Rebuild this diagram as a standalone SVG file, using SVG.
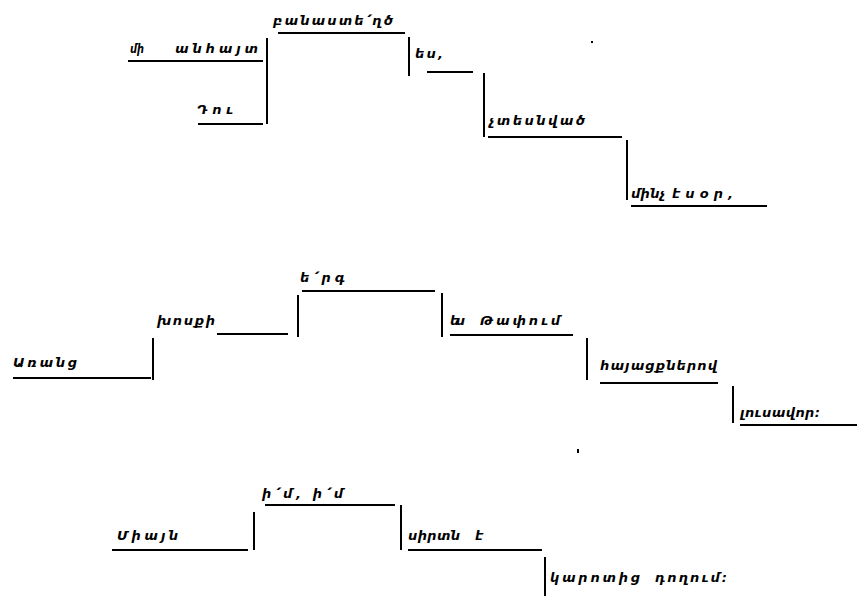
<svg xmlns="http://www.w3.org/2000/svg" width="863" height="596" viewBox="0 0 863 596">
<style>
text{font-family:"DejaVu Sans","Noto Sans",sans-serif;font-size:13px;font-style:italic;font-weight:bold;fill:#000}
.u{stroke:#000;stroke-width:1.8;fill:none}
.v{stroke:#000;stroke-width:2;fill:none}
</style>
<rect width="863" height="596" fill="#fff"/>
<g id="connectors">
<line class="v" x1="267" y1="38" x2="267" y2="124"/>
<line class="v" x1="409" y1="37" x2="409" y2="76"/>
<line class="v" x1="484" y1="73" x2="484" y2="137"/>
<line class="v" x1="627" y1="140" x2="627" y2="200"/>
<line class="v" x1="153" y1="338" x2="153" y2="380"/>
<line class="v" x1="298" y1="295" x2="298" y2="337"/>
<line class="v" x1="442" y1="293" x2="442" y2="337"/>
<line class="v" x1="587" y1="338" x2="587" y2="380"/>
<line class="v" x1="733" y1="386" x2="733" y2="423"/>
<line class="v" x1="254" y1="512" x2="254" y2="550"/>
<line class="v" x1="401" y1="505" x2="401" y2="550"/>
<line class="v" x1="545" y1="557" x2="545" y2="596"/>
</g>
<g id="n1"><text x="130" y="53" textLength="14" lengthAdjust="spacingAndGlyphs">մի</text><text x="175" y="53" textLength="83" lengthAdjust="spacing">անհայտ</text><line class="u" x1="128" y1="61" x2="263" y2="61"/></g>
<g id="n2"><text x="197" y="114" textLength="36" lengthAdjust="spacing">Դու</text><line class="u" x1="198" y1="124" x2="263" y2="124"/></g>
<g id="n3"><text x="273" y="25" textLength="120" lengthAdjust="spacing">բանաստե՛ղծ</text><line class="u" x1="278" y1="33" x2="405" y2="33"/></g>
<g id="n4"><text x="415" y="58" textLength="28" lengthAdjust="spacing">ես,</text><line class="u" x1="427" y1="72" x2="473" y2="72"/></g>
<g id="n5"><text x="489" y="125" textLength="96" lengthAdjust="spacing">չտեսնված</text><line class="u" x1="488" y1="137" x2="622" y2="137"/></g>
<g id="n6"><text x="631" y="198" textLength="34" lengthAdjust="spacing">մինչ</text><text x="672" y="198" textLength="61" lengthAdjust="spacing">էսօր,</text><line class="u" x1="631" y1="206" x2="767" y2="206"/></g>
<g id="n7"><text x="13" y="367" textLength="64" lengthAdjust="spacing">Առանց</text><line class="u" x1="13" y1="378" x2="151" y2="378"/></g>
<g id="n8"><text x="157" y="325" textLength="58" lengthAdjust="spacing">խոսքի</text><line class="u" x1="217" y1="334" x2="288" y2="334"/></g>
<g id="n9"><text x="300" y="282" textLength="45" lengthAdjust="spacing">ե՛րգ</text><line class="u" x1="302" y1="291" x2="435" y2="291"/></g>
<g id="n10"><text x="450" y="325" textLength="15" lengthAdjust="spacing">ես</text><text x="480" y="325" textLength="80" lengthAdjust="spacing">Թափում</text><line class="u" x1="450" y1="335" x2="573" y2="335"/></g>
<g id="n11"><text x="600" y="370" textLength="117" lengthAdjust="spacing">հայացքներով</text><line class="u" x1="600" y1="383" x2="718" y2="383"/></g>
<g id="n12"><text x="740" y="417" textLength="80" lengthAdjust="spacing">լուսավոր։</text><line class="u" x1="740" y1="425" x2="857" y2="425"/></g>
<g id="n13"><text x="117" y="540" textLength="61" lengthAdjust="spacing">Միայն</text><line class="u" x1="112" y1="550" x2="248" y2="550"/></g>
<g id="n14"><text x="262" y="498" textLength="81" lengthAdjust="spacing">ի՛մ, ի՛մ</text><line class="u" x1="265" y1="505" x2="395" y2="505"/></g>
<g id="n15"><text x="408" y="540" textLength="52" lengthAdjust="spacing">սիրտն</text><text x="475" y="540" textLength="15" lengthAdjust="spacing">է</text><line class="u" x1="408" y1="550" x2="542" y2="550"/></g>
<g id="n16"><text x="550" y="582" textLength="90" lengthAdjust="spacing">կարոտից</text><text x="655" y="582" textLength="72" lengthAdjust="spacing">դողում։</text></g>
<rect x="591" y="41" width="2" height="2" fill="#000"/>
<rect x="577" y="449" width="2" height="4" fill="#000"/>
</svg>
